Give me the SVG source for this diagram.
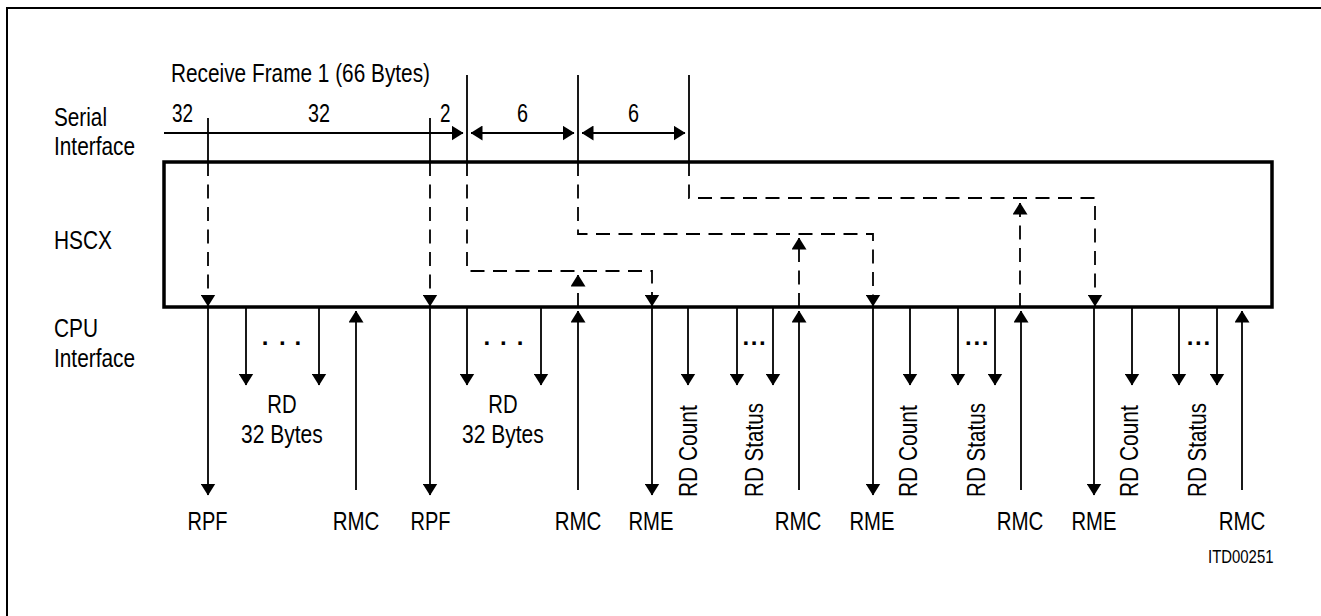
<svg xmlns="http://www.w3.org/2000/svg" width="1321" height="616" viewBox="0 0 1321 616">
<style>
text{font-family:"Liberation Sans",Arial,sans-serif;font-size:26px;fill:#000}
.c{text-anchor:middle}
.s{font-size:18.5px}
.d{font-weight:bold;font-size:24px}
.ln{fill:none;stroke:#000;stroke-width:1.8}
.ds{fill:none;stroke:#000;stroke-width:1.8;stroke-dasharray:14 8.5}
.ar{marker-end:url(#ah)}
.bi{marker-start:url(#ahs);marker-end:url(#ah)}
</style>
<defs>
<marker id="ah" viewBox="0 0 12 15" refX="11.5" refY="7.5" markerWidth="12" markerHeight="15" markerUnits="userSpaceOnUse" orient="auto"><path d="M0,0 L12,7.5 L0,15 z" fill="#000"/></marker>
<marker id="ahs" viewBox="0 0 12 15" refX="0.5" refY="7.5" markerWidth="12" markerHeight="15" markerUnits="userSpaceOnUse" orient="auto"><path d="M12,0 L0,7.5 L12,15 z" fill="#000"/></marker>
</defs>
<path d="M7,616 V8 H1321" fill="none" stroke="#000" stroke-width="2"/>
<g id="labels">
<text x="171" y="82" textLength="259" lengthAdjust="spacingAndGlyphs">Receive Frame 1 (66 Bytes)</text>
<text x="54" y="126" textLength="53" lengthAdjust="spacingAndGlyphs">Serial</text>
<text x="54" y="155" textLength="81" lengthAdjust="spacingAndGlyphs">Interface</text>
<text x="172" y="122" textLength="21" lengthAdjust="spacingAndGlyphs">32</text>
<text x="308" y="122" textLength="22" lengthAdjust="spacingAndGlyphs">32</text>
<text x="440" y="122" textLength="10.5" lengthAdjust="spacingAndGlyphs">2</text>
<text x="517" y="122" textLength="11" lengthAdjust="spacingAndGlyphs">6</text>
<text x="628" y="122" textLength="11" lengthAdjust="spacingAndGlyphs">6</text>
<text x="54" y="337" textLength="44" lengthAdjust="spacingAndGlyphs">CPU</text>
<text x="54" y="367" textLength="81" lengthAdjust="spacingAndGlyphs">Interface</text>
<text class="s" x="1208" y="563" textLength="65.5" lengthAdjust="spacingAndGlyphs">ITD00251</text>
</g>
<g id="hscx">
<rect x="164" y="162" width="1108" height="145" fill="none" stroke="#000" stroke-width="3.5"/>
<text x="54" y="249" textLength="58" lengthAdjust="spacingAndGlyphs">HSCX</text>
</g>
<g id="connectors">
<path class="ln" d="M208,118 V162 M430,118 V162 M467,75 V162 M578,75 V162 M689,75 V162"/>
<path class="ln ar" d="M164,133 H463"/>
<path class="ln bi" d="M471,133 H574"/>
<path class="ln bi" d="M582,133 H685"/>
<path class="ds ar" d="M208,162 V306"/>
<path class="ds ar" d="M430,162 V306"/>
<path class="ds ar" d="M467,162 V271 H652 V306"/>
<path class="ds ar" d="M578,162 V234 H873 V306"/>
<path class="ds ar" d="M689,162 V198 H1095 V306"/>
<path class="ds ar" d="M578,307 V275"/>
<path class="ds ar" d="M799,307 V238"/>
<path class="ds ar" d="M1020,307 V203"/>
<path class="ln ar" d="M208,308 V495"/>
<path class="ln ar" d="M430,308 V495"/>
<path class="ln ar" d="M652,308 V495"/>
<path class="ln ar" d="M873,308 V495"/>
<path class="ln ar" d="M1094,308 V495"/>
<path class="ln ar" d="M246,308 V385"/>
<path class="ln ar" d="M319,308 V385"/>
<path class="ln ar" d="M467,308 V385"/>
<path class="ln ar" d="M541,308 V385"/>
<path class="ln ar" d="M688,308 V385"/>
<path class="ln ar" d="M737,308 V385"/>
<path class="ln ar" d="M773,308 V385"/>
<path class="ln ar" d="M910,308 V385"/>
<path class="ln ar" d="M958,308 V385"/>
<path class="ln ar" d="M995,308 V385"/>
<path class="ln ar" d="M1132,308 V385"/>
<path class="ln ar" d="M1179,308 V385"/>
<path class="ln ar" d="M1217,308 V385"/>
<path class="ln ar" d="M356,490 V311"/>
<path class="ln ar" d="M578,490 V311"/>
<path class="ln ar" d="M799,490 V311"/>
<path class="ln ar" d="M1021,490 V311"/>
<path class="ln ar" d="M1242,490 V311"/>
</g>
<g id="cpu-labels">
<text class="d" x="261.7 279 294.4" y="344.5">...</text>
<text class="d" x="483.4 500 516.7" y="344.5">...</text>
<text class="d" x="742.4 750.7 759" y="344.5">...</text>
<text class="d" x="965 973.4 981.7" y="344.5">...</text>
<text class="d" x="1186.7 1195 1203.4" y="344.5">...</text>
<text x="267.3" y="413" textLength="29.3" lengthAdjust="spacingAndGlyphs">RD</text>
<text x="241" y="443" textLength="81.7" lengthAdjust="spacingAndGlyphs">32 Bytes</text>
<text x="488.3" y="413" textLength="29.3" lengthAdjust="spacingAndGlyphs">RD</text>
<text x="462" y="443" textLength="81.7" lengthAdjust="spacingAndGlyphs">32 Bytes</text>
<text transform="translate(697,497) rotate(-90)" textLength="91.7" lengthAdjust="spacingAndGlyphs">RD Count</text>
<text transform="translate(763,497) rotate(-90)" textLength="94" lengthAdjust="spacingAndGlyphs">RD Status</text>
<text transform="translate(917,497) rotate(-90)" textLength="91.7" lengthAdjust="spacingAndGlyphs">RD Count</text>
<text transform="translate(985,497) rotate(-90)" textLength="94" lengthAdjust="spacingAndGlyphs">RD Status</text>
<text transform="translate(1138,497) rotate(-90)" textLength="91.7" lengthAdjust="spacingAndGlyphs">RD Count</text>
<text transform="translate(1206,497) rotate(-90)" textLength="94" lengthAdjust="spacingAndGlyphs">RD Status</text>
<text x="187.5" y="530" textLength="40" lengthAdjust="spacingAndGlyphs">RPF</text>
<text x="332.7" y="530" textLength="46.7" lengthAdjust="spacingAndGlyphs">RMC</text>
<text x="410.5" y="530" textLength="40" lengthAdjust="spacingAndGlyphs">RPF</text>
<text x="554.7" y="530" textLength="46.7" lengthAdjust="spacingAndGlyphs">RMC</text>
<text x="628.5" y="530" textLength="45" lengthAdjust="spacingAndGlyphs">RME</text>
<text x="774.7" y="530" textLength="46.7" lengthAdjust="spacingAndGlyphs">RMC</text>
<text x="849.5" y="530" textLength="45" lengthAdjust="spacingAndGlyphs">RME</text>
<text x="996.7" y="530" textLength="46.7" lengthAdjust="spacingAndGlyphs">RMC</text>
<text x="1071.5" y="530" textLength="45" lengthAdjust="spacingAndGlyphs">RME</text>
<text x="1218.7" y="530" textLength="46.7" lengthAdjust="spacingAndGlyphs">RMC</text>
</g>
</svg>
